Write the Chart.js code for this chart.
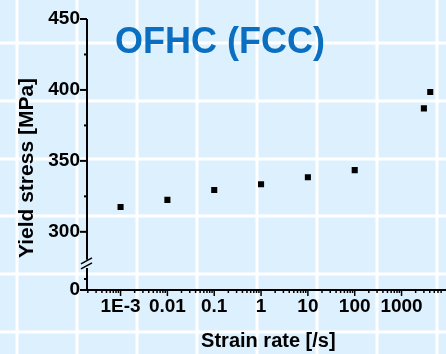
<!DOCTYPE html>
<html>
<head>
<meta charset="utf-8">
<script src="https://cdn.jsdelivr.net/npm/chart.js@4/dist/chart.umd.min.js"></script>
<style>
  html, body { margin: 0; padding: 0; background: #dcf0fd; overflow: hidden; }
  #chart { display: block; }
</style>
</head>
<body>
<canvas id="chart" width="446" height="354"></canvas>
<script>
// strain rate [/s] and yield stress [MPa]
const strainRates = [0.001, 0.01, 0.1, 1, 10, 100, 3000, 4100];
const yieldStress = [317.5, 322.5, 329.5, 333.5, 338.5, 343.5, 387, 398.5];

const xTickValues = [0.001, 0.01, 0.1, 1, 10, 100, 1000];
const xTickLabels = ["1E-3", "0.01", "0.1", "1", "10", "100", "1000"];
const yTickValues = [300, 350, 400, 450];
const yTickLabels = ["300", "350", "400", "450"];
const yMinorValues = [325, 375, 425];
// bottom of the broken axis, labelled "0"
const yAxisFloor = 259;
const yFloorLabel = "0";

const FONT = "'Liberation Sans', Arial, sans-serif";

// minor log ticks 2..9 in every decade
const xMinor = [];
for (let d = -4; d <= 3; d++) {
  for (let m = 2; m <= 9; m++) xMinor.push(m * Math.pow(10, d));
}
const xMin = 1.92e-4;
const xMax = 7200;

const isMajorX = (v) =>
  xTickValues.findIndex((t) => Math.abs(Math.log10(t) - Math.log10(v)) < 1e-6);

const paperBackground = {
  id: "paperBackground",
  beforeDraw(chart) {
    const ctx = chart.ctx;
    ctx.save();
    ctx.fillStyle = "#dcf0fd";
    ctx.fillRect(0, 0, chart.width, chart.height);
    ctx.strokeStyle = "#ffffff";
    ctx.lineWidth = 3;
    for (let x = 17; x < chart.width; x += 60) {
      ctx.beginPath();
      ctx.moveTo(x, 0);
      ctx.lineTo(x, chart.height);
      ctx.stroke();
    }
    for (let y = 43; y < chart.height; y += 57.8) {
      ctx.beginPath();
      ctx.moveTo(0, Math.round(y));
      ctx.lineTo(chart.width, Math.round(y));
      ctx.stroke();
    }
    ctx.restore();
  },
};

const brokenAxes = {
  id: "brokenAxes",
  beforeDatasetsDraw(chart) {
    const ctx = chart.ctx;
    const xs = chart.scales.x;
    const ys = chart.scales.y;
    const ax = chart.chartArea.left;
    const ay = chart.chartArea.bottom;
    ctx.save();
    ctx.strokeStyle = "#000";
    ctx.lineWidth = 2;

    // y axis with a break between 0 and 300
    const yTop = ys.getPixelForValue(450);
    const breakTop = ys.getPixelForValue(300) + 28;
    const breakBottom = ay - 22;
    ctx.beginPath();
    ctx.moveTo(ax, yTop);
    ctx.lineTo(ax, breakTop);
    ctx.moveTo(ax, breakBottom);
    ctx.lineTo(ax, ay);
    ctx.stroke();

    // break marks
    ctx.lineWidth = 1.5;
    [breakTop + 1, breakTop + 6].forEach((cy) => {
      ctx.beginPath();
      ctx.moveTo(ax - 6, cy + 3);
      ctx.lineTo(ax + 5, cy - 3);
      ctx.stroke();
    });

    // y ticks
    ctx.lineWidth = 2;
    yTickValues.forEach((v) => {
      const py = ys.getPixelForValue(v);
      ctx.beginPath();
      ctx.moveTo(ax - 7, py);
      ctx.lineTo(ax, py);
      ctx.stroke();
    });
    yMinorValues.forEach((v) => {
      const py = ys.getPixelForValue(v);
      ctx.beginPath();
      ctx.moveTo(ax - 3, py);
      ctx.lineTo(ax, py);
      ctx.stroke();
    });
    ctx.beginPath();
    ctx.moveTo(ax - 7, ay);
    ctx.lineTo(ax, ay);
    ctx.moveTo(ax - 3, ay - 11);
    ctx.lineTo(ax, ay - 11);
    ctx.stroke();

    // x axis
    ctx.beginPath();
    ctx.moveTo(ax - 1, ay);
    ctx.lineTo(chart.width, ay);
    ctx.stroke();
    ctx.lineWidth = 1.5;
    xs.ticks.forEach((t) => {
      const px = xs.getPixelForValue(t.value);
      const len = isMajorX(t.value) >= 0 ? 6 : 3;
      ctx.beginPath();
      ctx.moveTo(px, ay);
      ctx.lineTo(px, ay + len);
      ctx.stroke();
    });
    ctx.restore();
  },
  afterDraw(chart) {
    const ctx = chart.ctx;
    const area = chart.chartArea;
    ctx.save();
    ctx.fillStyle = "#0a6fc0";
    ctx.font = "bold 36px " + FONT;
    ctx.textAlign = "center";
    ctx.textBaseline = "alphabetic";
    ctx.fillText("OFHC (FCC)", 220, 53);

    ctx.fillStyle = "#000";
    ctx.font = "bold 20px " + FONT;
    ctx.fillText("Strain rate [/s]", (area.left + area.right) / 2 + 4, 347);

    ctx.translate(33, 168);
    ctx.rotate(-Math.PI / 2);
    ctx.font = "bold 21px " + FONT;
    ctx.fillText("Yield stress [MPa]", 0, 0);
    ctx.restore();
  },
};

const ctx = document.getElementById("chart");
new Chart(ctx, {
  type: "scatter",
  data: {
    datasets: [
      {
        data: strainRates.map((x, i) => ({ x: x, y: yieldStress[i] })),
        pointStyle: "rect",
        pointRadius: 4.3,
        pointHoverRadius: 4.3,
        backgroundColor: "#000",
        borderWidth: 0,
      },
    ],
  },
  options: {
    responsive: false,
    animation: false,
    devicePixelRatio: 1,
    layout: { padding: { top: 19, left: 0, right: 0, bottom: 0 } },
    plugins: {
      legend: { display: false },
      tooltip: { enabled: false },
    },
    scales: {
      x: {
        type: "logarithmic",
        min: xMin,
        max: xMax,
        grid: { display: false, drawTicks: false },
        border: { display: false },
        afterBuildTicks: (scale) => {
          scale.ticks = xMinor
            .concat(xTickValues)
            .filter((v) => v >= xMin && v <= xMax)
            .sort((a, b) => a - b)
            .map((v) => ({ value: v }));
        },
        afterFit: (scale) => {
          scale.height = 64;
          scale.paddingLeft = 0;
          scale.paddingRight = 0;
        },
        ticks: {
          autoSkip: false,
          maxRotation: 0,
          minRotation: 0,
          padding: 5.5,
          color: "#000",
          font: { family: FONT, size: 19, weight: "bold" },
          callback: (v) => {
            const i = isMajorX(v);
            return i >= 0 ? xTickLabels[i] : "";
          },
        },
      },
      y: {
        type: "linear",
        min: yAxisFloor,
        max: 450,
        grid: { display: false, drawTicks: false },
        border: { display: false },
        afterBuildTicks: (scale) => {
          scale.ticks = [yAxisFloor].concat(yTickValues).map((v) => ({ value: v }));
        },
        afterFit: (scale) => {
          scale.width = 87;
        },
        ticks: {
          padding: 7,
          color: "#000",
          font: { family: FONT, size: 19, weight: "bold" },
          callback: (v) => {
            if (v === yAxisFloor) return yFloorLabel;
            const i = yTickValues.indexOf(v);
            return i >= 0 ? yTickLabels[i] : "";
          },
        },
      },
    },
  },
  plugins: [paperBackground, brokenAxes],
});
</script>
</body>
</html>
